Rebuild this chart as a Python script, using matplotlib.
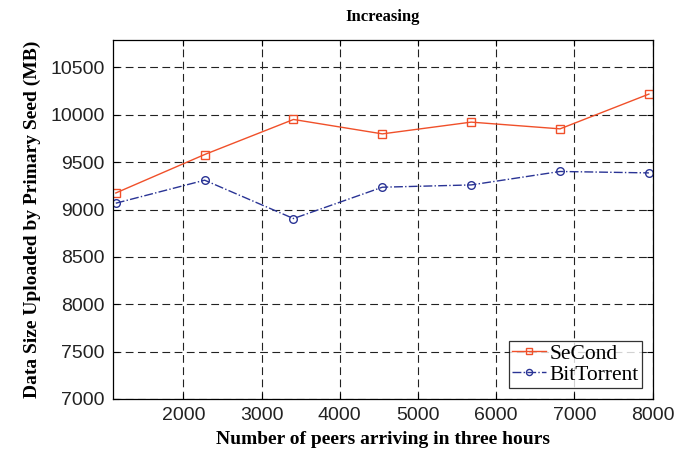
import numpy as np
import matplotlib
matplotlib.use("Agg")
import matplotlib.pyplot as plt

# peers arriving in three hours
peers = [1136, 2272, 3408, 4544, 5680, 6816, 7952]
second_mb = [9175, 9581, 9951, 9799, 9923, 9852, 10219]
bittorrent_mb = [9067, 9310, 8905, 9236, 9260, 9402, 9387]
xticks = [2000, 3000, 4000, 5000, 6000, 7000, 8000]
yticks = [7000, 7500, 8000, 8500, 9000, 9500, 10000, 10500]

serif = "Liberation Serif"
sans = "Liberation Sans"

fig = plt.figure(figsize=(6.91, 4.51), dpi=100)
ax = fig.add_axes([0.1635, 0.1153, 0.781, 0.796])

ax.plot(peers, second_mb, color="#f0502a", lw=1.0, marker="s", ms=5.5,
        mfc="none", mec="#f0502a", mew=1.0, label="SeCond")
ax.plot(peers, bittorrent_mb, color="#2a3495", lw=1.0, ls="-.", marker="o",
        ms=5.5, mfc="none", mec="#2a3495", mew=1.0, label="BitTorrent")

ax.set_xlim(1100, 8000)
ax.set_ylim(7000, 10790)
ax.set_xticks(xticks)
ax.set_yticks(yticks)
ax.grid(True, color="#222222", ls=(0, (7, 4)), lw=0.8)
ax.tick_params(direction="in", top=True, right=True, length=4,
               labelsize=14, pad=6)
for lab in ax.get_xticklabels() + ax.get_yticklabels():
    lab.set_fontfamily(sans)
    lab.set_color("#222222")
for s in ax.spines.values():
    s.set_linewidth(0.9)

ax.set_xlabel("Number of peers arriving in three hours", fontfamily=serif,
              fontweight="bold", fontsize=14, labelpad=5)
ax.set_ylabel("Data Size Uploaded by Primary Seed (MB)", fontfamily=serif,
              fontweight="bold", fontsize=14, labelpad=7)
ax.set_title("Increasing", fontfamily=serif, fontweight="bold", fontsize=12,
             pad=14)

leg = ax.legend(loc="lower right", prop={"family": serif, "size": 15.5},
                frameon=True, fancybox=False, edgecolor="black",
                borderpad=0.15, handlelength=1.6, handletextpad=0.15,
                labelspacing=0.05, borderaxespad=0.5, markerscale=0.8)
leg.get_frame().set_linewidth(0.9)

fig.savefig("out.png", dpi=100)
